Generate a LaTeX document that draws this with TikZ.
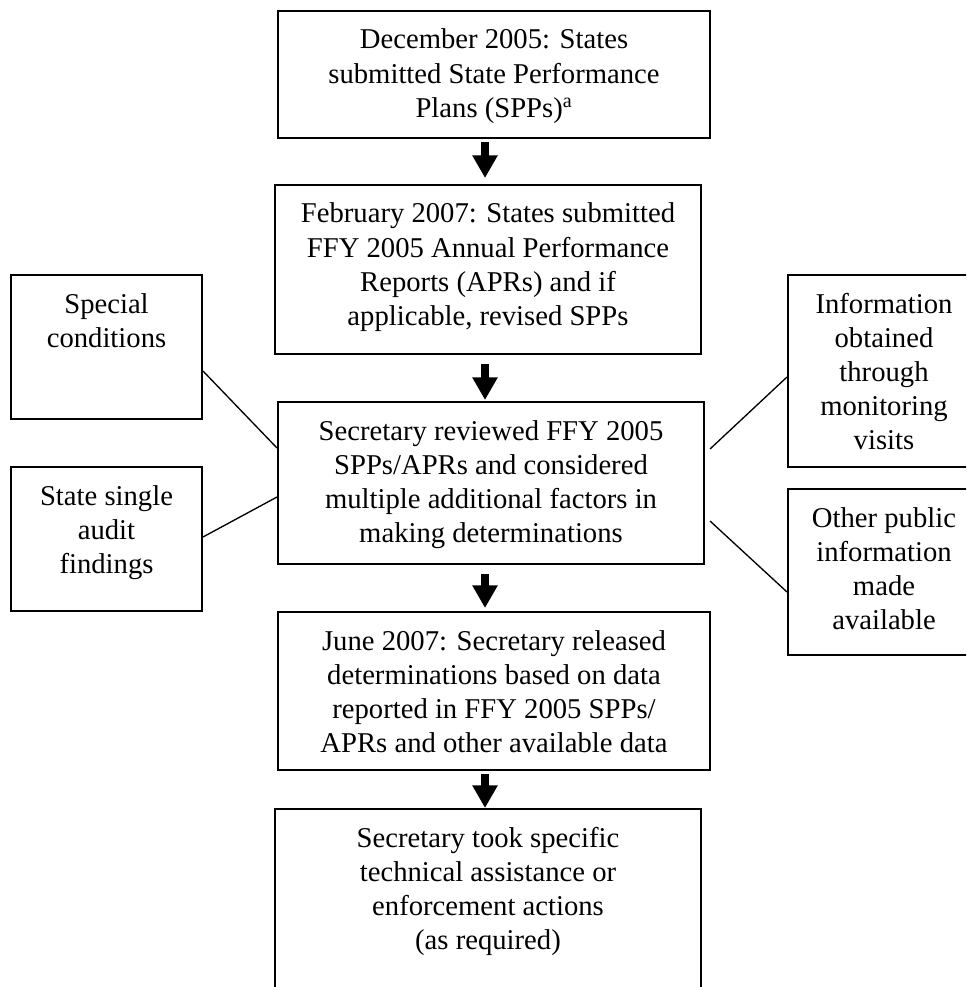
\documentclass[tikz,border=0pt]{standalone}
\usepackage{fontspec}
\setmainfont{Liberation Serif}
\usetikzlibrary{arrows.meta}
\newcommand\bxtext[3]{\parbox[c][#2][t]{#1}{\centering\rule{0pt}{28.5pt}#3}}
\tikzset{
  fbox/.style={draw, line width=1.5pt, inner sep=0pt, anchor=north west,
    font=\fontsize{21.5pt}{25.6pt}\selectfont},
  link/.style={line width=1pt},
  bigarrow/.style={line width=6pt, -{Triangle[width=18pt,length=17pt]}}
}
\begin{document}
\begin{tikzpicture}[x=0.75pt,y=-0.75pt]
\useasboundingbox (0,0) rectangle (966,987);
\clip (0,0) rectangle (966,987);
\fill[white] (0,0) rectangle (966,987);
\coordinate (ax) at (485,0);
\node[fbox] (b1) at (277,10) {\bxtext{324pt}{95.25pt}{December 2005: States\\ submitted State Performance\\ Plans (SPPs)\textsuperscript{a}}};
\node[fbox] (b2) at (274,184) {\bxtext{319.5pt}{126.75pt}{February 2007: States submitted\\ FFY 2005 Annual Performance\\ Reports (APRs) and if\\ applicable, revised SPPs}};
\node[fbox] (b3) at (277,401) {\bxtext{319.5pt}{121.5pt}{Secretary reviewed FFY 2005\\ SPPs/APRs and considered\\ multiple additional factors in\\ making determinations}};
\node[fbox] (b4) at (277,611) {\bxtext{324pt}{118.5pt}{June 2007: Secretary released\\ determinations based on data\\ reported in FFY 2005 SPPs/\\ APRs and other available data}};
\node[fbox] (b5) at (274,808) {\bxtext{319.5pt}{160pt}{Secretary took specific\\ technical assistance or\\ enforcement actions\\ (as required)}};
\node[fbox] (sc) at (10,274) {\bxtext{143.25pt}{108pt}{Special\\ conditions}};
\node[fbox] (ssa) at (10,466) {\bxtext{143.25pt}{108pt}{State single\\ audit\\ findings}};
\node[fbox] (info) at (787,274) {\bxtext{144pt}{144pt}{Information\\ obtained\\ through\\ monitoring\\ visits}};
\node[fbox] (other) at (787,488) {\bxtext{144pt}{124.5pt}{Other public\\ information\\ made\\ available}};
% arrows
\draw[bigarrow, shorten <=2.25pt, shorten >=4.5pt] (b1.south -| ax) -- (b2.north -| ax);
\draw[bigarrow, shorten <=6.75pt, shorten >=0.75pt] (b2.south -| ax) -- (b3.north -| ax);
\draw[bigarrow, shorten <=6.75pt, shorten >=2.25pt] (b3.south -| ax) -- (b4.north -| ax);
\draw[bigarrow, shorten <=2.25pt, shorten >=0pt] (b4.south -| ax) -- (b5.north -| ax);
% side links
\draw[link] ([yshift=-72.75pt]sc.north east) -- ([yshift=-35.25pt]b3.north west);
\draw[link] ([yshift=-53.25pt]ssa.north east) -- ([yshift=-72pt]b3.north west);
\draw[link] ([xshift=3.75pt,yshift=-36pt]b3.north east) -- ([yshift=-77.25pt]info.north west);
\draw[link] ([xshift=3.75pt,yshift=-90pt]b3.north east) -- ([yshift=-78pt]other.north west);
\end{tikzpicture}
\end{document}
